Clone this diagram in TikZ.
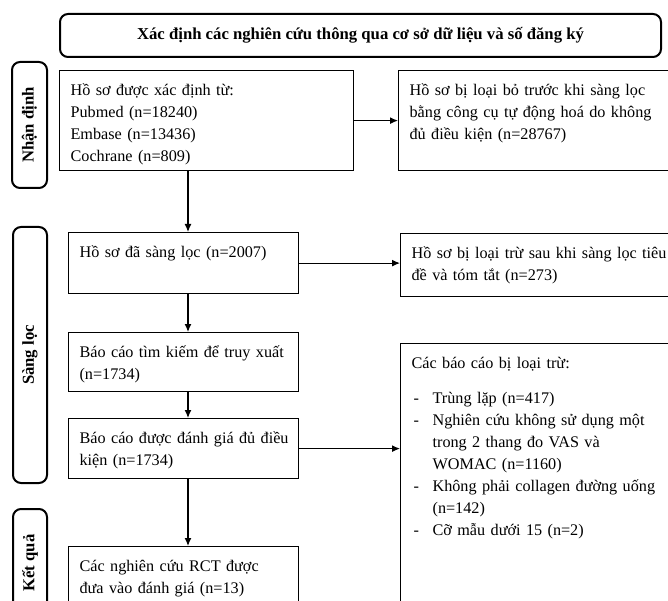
\documentclass[tikz,border=0pt]{standalone}
\usepackage{fontspec}
\setmainfont{Liberation Serif}
\usetikzlibrary{arrows.meta}

\newcommand{\fline}[1]{\makebox[\linewidth][s]{#1}}
\newcommand{\dashitem}{\makebox[21pt][l]{\hspace{2pt}-}}

\begin{document}
\begin{tikzpicture}[x=1pt, y=-1pt, line width=1.2pt, >={Latex[length=8pt,width=7pt]},
    font=\fontsize{16.2}{22}\selectfont,
    stage/.style = {draw, line width=2pt, rounded corners=8pt, inner sep=0pt, font=\fontsize{16.7}{20}\selectfont\bfseries},
    main/.style = {draw, anchor=north west, align=left, inner xsep=11pt, inner ysep=9.5pt, text height=15pt}]
    \useasboundingbox (0,0) rectangle (668,601);
    \clip (0,0) rectangle (668,601);

    \node[stage, anchor=north west, minimum width=601pt, minimum height=43pt] (0) at (59,13) {Xác định các nghiên cứu thông qua cơ sở dữ liệu và số đăng ký};
    \node[stage, rotate=90, minimum width=126pt, minimum height=35pt] (s1) at (29.5,125) {Nhận định};
    \node[stage, rotate=90, minimum width=256pt, minimum height=34pt] (s2) at (30,355) {Sàng lọc};
    \node[stage, rotate=90, minimum width=108pt, minimum height=34pt] (s3) at (30,563) {Kết quả};

    \node[main, text width=272pt, text depth=66pt] (1) at (59,70) {Hồ sơ được xác định từ:\\ Pubmed (n=18240)\\ Embase (n=13436)\\ Cochrane (n=809)};
    \node[main, text width=208pt, text depth=27pt] (2) at (68,232) {Hồ sơ đã sàng lọc (n=2007)};
    \node[main, text width=208pt, text depth=25pt] (3) at (68,332) {\mbox{Báo cáo tìm kiếm để truy xuất}\\ (n=1734)};
    \node[main, text width=208pt, text depth=26pt] (4) at (68,418) {\mbox{Báo cáo được đánh giá đủ điều}\\ kiện (n=1734)};
    \node[main, text width=208pt, text depth=66pt] (5) at (68,546) {Các nghiên cứu RCT được\\ đưa vào đánh giá (n=13)};

    \node[main, text width=252pt, text depth=66pt] (6) at (398,70) {\fline{Hồ sơ bị loại bỏ trước khi sàng lọc}\\ \fline{bằng công cụ tự động hoá do không}\\ đủ điều kiện (n=28767)};
    \node[main, text width=252pt, text depth=29pt] (7) at (400,233) {\fline{Hồ sơ bị loại trừ sau khi sàng lọc tiêu}\\ đề và tóm tắt (n=273)};
    \node[main, text width=252pt, text depth=266pt] (8) at (400,343) {Các báo cáo bị loại trừ:\\[13pt]
        \dashitem Trùng lặp (n=417)\\
        \dashitem Nghiên cứu không sử dụng một\\
        \hspace*{21pt}trong 2 thang đo VAS và\\
        \hspace*{21pt}WOMAC (n=1160)\\
        \dashitem Không phải collagen đường uống\\
        \hspace*{21pt}(n=142)\\
        \dashitem Cỡ mẫu dưới 15 (n=2)};

    \coordinate (a) at (188,0);
    \draw[->] (1.south -| a) -- (2.north -| a);
    \draw[->] (2.south -| a) -- (3.north -| a);
    \draw[->] (3.south -| a) -- (4.north -| a);
    \draw[->] (4.south -| a) -- (5.north -| a);

    \draw[->] (1) -- (6);
    \draw[->] (2.east) -- (2.east -| 7.west);
    \draw[->] (4.east) -- (4.east -| 8.west);
\end{tikzpicture}
\end{document}
